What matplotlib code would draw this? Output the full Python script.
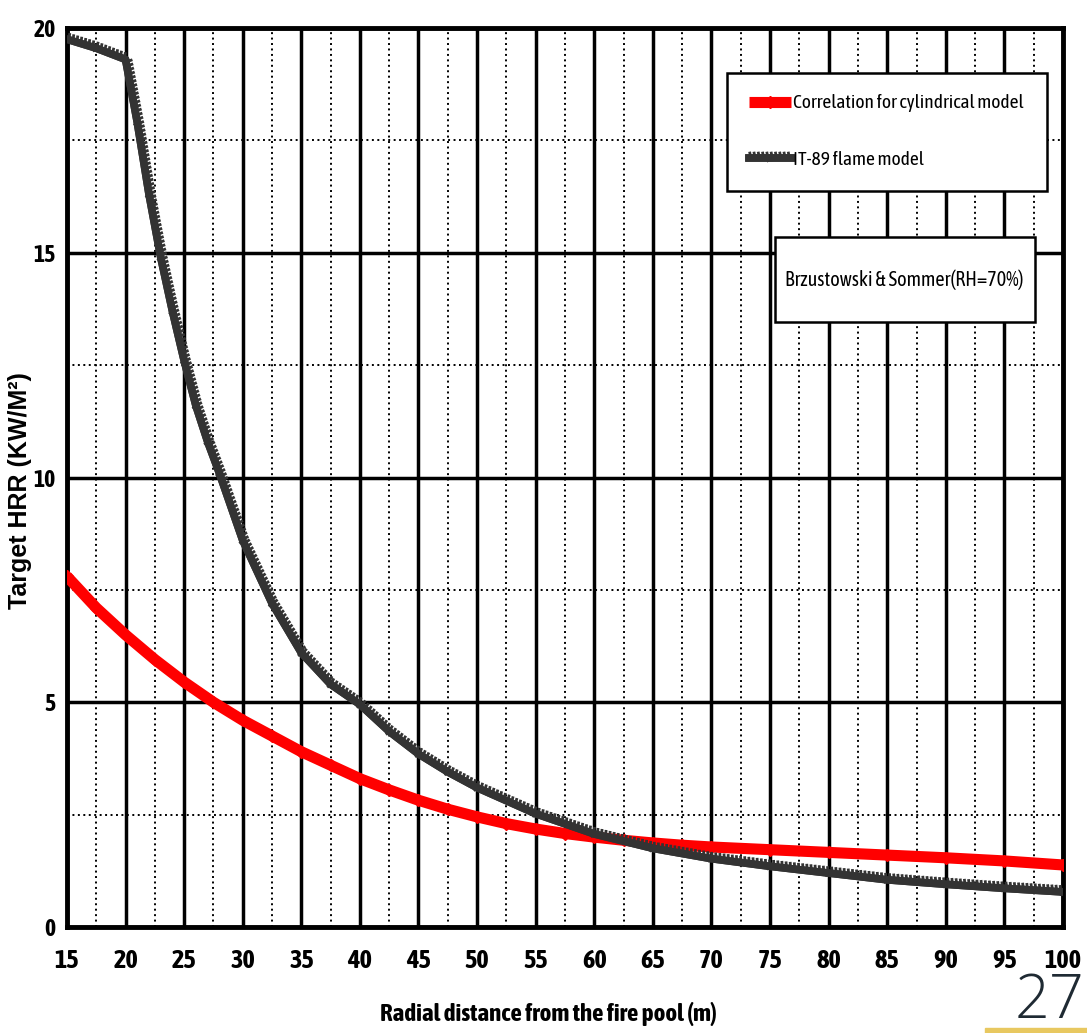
import matplotlib
matplotlib.use("Agg")
import matplotlib.pyplot as plt
import matplotlib.patheffects as pe
from matplotlib import font_manager as fm
from matplotlib.patches import Rectangle

# Data
corr_x = [15, 17.5, 20, 22.5, 25, 27.5, 30, 32.5, 35, 37.5, 40, 42.5, 45, 47.5, 50,
          52.5, 55, 57.5, 60, 62.5, 65, 67.5, 70, 75, 80, 85, 90, 95, 100]
corr_y = [7.8, 7.1, 6.5, 5.95, 5.45, 5.0, 4.6, 4.25, 3.9, 3.6, 3.3, 3.05, 2.82, 2.62, 2.45,
          2.3, 2.18, 2.08, 2.0, 1.93, 1.87, 1.82, 1.78, 1.72, 1.66, 1.6, 1.54, 1.47, 1.38]

it89_x = [15, 17.5, 20, 21, 22, 23, 24, 25, 26, 27, 28, 30, 32.5, 35, 37.5, 40, 42.5, 45,
          47.5, 50, 55, 60, 65, 70, 75, 80, 85, 90, 95, 100]
it89_y = [19.75, 19.55, 19.3, 17.9, 16.3, 14.9, 13.7, 12.6, 11.6, 10.8, 10.1, 8.6, 7.2, 6.1,
          5.4, 4.95, 4.35, 3.85, 3.45, 3.1, 2.52, 2.07, 1.75, 1.52, 1.35, 1.2, 1.05, 0.95,
          0.86, 0.78]

x_ticks = [15, 20, 25, 30, 35, 40, 45, 50, 55, 60, 65, 70, 75, 80, 85, 90, 95, 100]
y_ticks = [0, 5, 10, 15, 20]


def is_bold(f):
    w = f.weight
    if isinstance(w, str):
        return w in ('bold', 'heavy', 'black', 'extra bold', 'demibold', 'semibold')
    return w >= 600


# Look for a narrow font (with a bold face if possible), the reference uses a squeezed one
def pick_narrow():
    narrow = [f for f in fm.fontManager.ttflist
              if 'Narrow' in f.name or 'Condensed' in f.name]
    for f in narrow:
        if is_bold(f):
            return f.name
    if narrow:
        return narrow[0].name
    return 'DejaVu Sans'


NARROW = pick_narrow()
NFAM = [NARROW, 'DejaVu Sans']
k = 1.0 if NARROW != 'DejaVu Sans' else 0.8

fig = plt.figure(figsize=(10.87, 10.33), dpi=100)
ax = fig.add_axes([0.0616, 0.1026, 0.9163, 0.8703])

# Curves
ax.plot(corr_x, corr_y, color='#ff0000', lw=8, marker='D', ms=6,
        solid_capstyle='butt', label='Correlation for cylindrical model', zorder=4)
ax.plot(it89_x, it89_y, color='#333333', lw=5.5, marker='^', ms=3,
        label='IT-89 flame model', zorder=5,
        path_effects=[pe.withTickedStroke(spacing=3, angle=100, length=1.3,
                                          linewidth=2, foreground='#333333'),
                      pe.Normal()])

ax.set_xlim(15, 100)
ax.set_ylim(0, 20)

# Grids: solid major, dotted minor
ax.set_xticks(x_ticks)
ax.set_yticks(y_ticks)
ax.set_xticks([x + 2.5 for x in x_ticks[:-1]], minor=True)
ax.set_yticks([y + 2.5 for y in y_ticks[:-1]], minor=True)
ax.grid(which='major', color='black', lw=2.5, ls='-')
ax.grid(which='minor', color='black', lw=1.4, ls=(0, (1, 1.8)))
ax.set_axisbelow(True)
ax.tick_params(which='both', length=0)
for s in ax.spines.values():
    s.set_linewidth(3.5)

for lab in ax.get_xticklabels():
    lab.set_family(NFAM)
    lab.set_fontweight('bold')
    lab.set_fontsize(19 * k)
for lab in ax.get_yticklabels():
    lab.set_family(NFAM)
    lab.set_fontweight('bold')
    lab.set_fontsize(17 * k)
ax.tick_params(axis='x', pad=15)
ax.tick_params(axis='y', pad=8)

ax.set_xlabel('Radial distance from the fire pool (m)', family=NFAM,
              fontweight='bold', fontsize=18 * k)
ax.xaxis.set_label_coords(0.483, -0.083)
ax.set_ylabel('Target HRR (KW/M²)', family=['Liberation Sans', 'DejaVu Sans'],
              fontweight='bold', fontsize=18)
ax.yaxis.set_label_coords(-0.035, 0.486)

leg = ax.legend(loc='upper left', bbox_to_anchor=(0.663, 0.8065, 0.321, 0.1435),
                mode='expand',
                prop={'family': NFAM, 'size': 14 * k},
                fancybox=False, framealpha=1, edgecolor='black', handlelength=2.2,
                handletextpad=0.1, borderpad=1.1, labelspacing=2.0,
                borderaxespad=0)
leg.get_frame().set_linewidth(1.8)

# Annotation box drawn separately so its padding matches the reference
ax.add_patch(Rectangle((0.711, 0.673), 0.261, 0.0945, transform=ax.transAxes,
                       facecolor='white', edgecolor='black', lw=1.8, zorder=6))
ax.text(0.841, 0.72, 'Brzustowski & Sommer(RH=70%)', transform=ax.transAxes,
        ha='center', va='center', family=NFAM, fontsize=14.5 * k, zorder=7)

# slide number in the corner
fig.patches.append(Rectangle((0.906, 0.0), 0.094, 0.005, transform=fig.transFigure,
                             color='#e8c860', zorder=0))
fig.text(0.998, 0.0, '27', ha='right', va='bottom', fontsize=44,
         family=['Open Sans', 'DejaVu Sans'], fontweight='light', color='#1f2a33')

fig.savefig('out.png', dpi=100)
